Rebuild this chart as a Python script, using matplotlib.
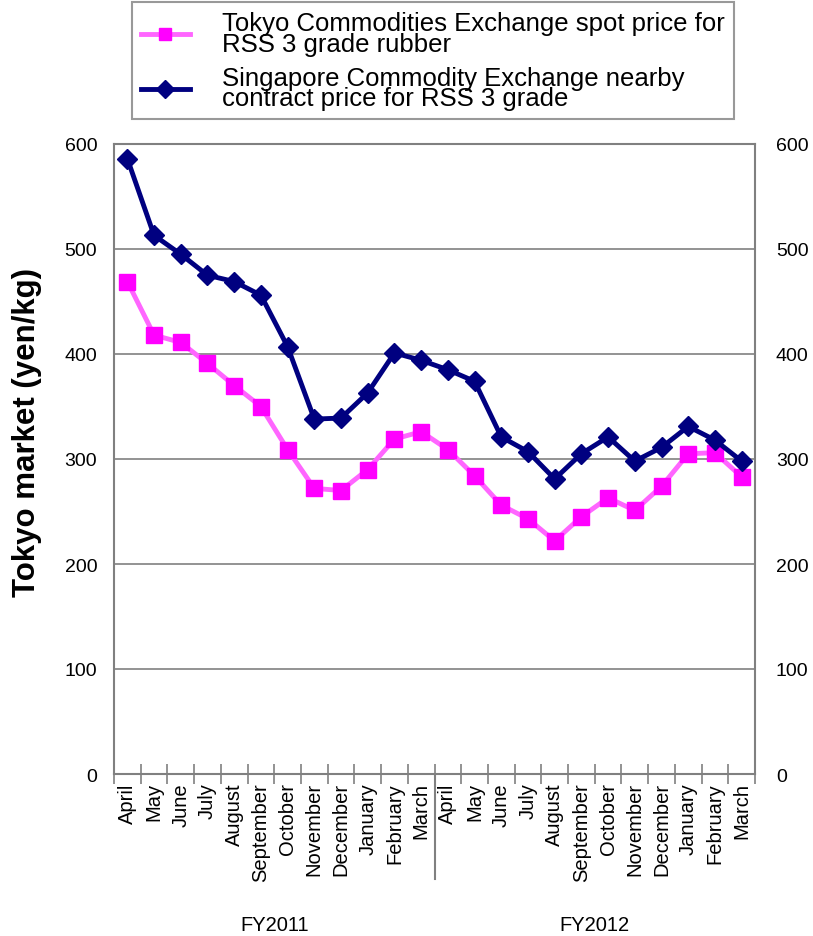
import matplotlib
matplotlib.use("Agg")
import matplotlib.pyplot as plt
import numpy as np

plt.rcParams['font.family'] = ['Liberation Sans', 'DejaVu Sans']

months = ["April", "May", "June", "July", "August", "September", "October",
          "November", "December", "January", "February", "March"]
categories = months + months
fiscal_years = ["FY2011", "FY2012"]

tokyo = [469, 418, 411, 391, 370, 350, 309, 272, 270, 290, 319, 326,
         309, 284, 256, 243, 222, 245, 263, 251, 274, 305, 306, 283]
singapore = [586, 513, 495, 475, 469, 456, 407, 338, 339, 363, 401, 394,
             385, 374, 321, 307, 281, 305, 321, 298, 311, 331, 318, 298]

label_tokyo = "Tokyo Commodities Exchange spot price for\nRSS 3 grade rubber"
label_sgp = "Singapore Commodity Exchange nearby\ncontract price for RSS 3 grade"
ylabel = "Tokyo market (yen/kg)"
yticks = [0, 100, 200, 300, 400, 500, 600]

fig = plt.figure(figsize=(8.13, 9.37), dpi=100)
ax = fig.add_axes([114/813, 1-775/937, (755-114)/813, (775-145)/937])

x = np.arange(len(categories))
ax.set_xlim(-0.5, len(categories) - 0.5)
ax.set_ylim(0, 600)

for yv in yticks[1:-1]:
    ax.axhline(yv, color='#808080', lw=1.2, zorder=1)

lt, = ax.plot(x, tokyo, color='#FF66FF', lw=3.5, marker='s', markersize=11,
              markerfacecolor='#FF00FF', markeredgecolor='#FF00FF', zorder=3,
              label=label_tokyo)
ls, = ax.plot(x, singapore, color='#000080', lw=3.5, marker='D', markersize=10,
              markerfacecolor='#000080', markeredgecolor='#000080', zorder=4,
              label=label_sgp)

for sp in ax.spines.values():
    sp.set_color('#808080')
    sp.set_linewidth(1.5)

ax.set_yticks(yticks)
ax.set_yticklabels([str(v) for v in yticks], fontsize=14)
ax.tick_params(axis='y', length=0, pad=12)
ax.set_ylabel(ylabel, fontsize=22.5, fontweight='bold')
ax.yaxis.set_label_coords(-0.112, 0.544)

ax2 = ax.twinx()
ax2.set_ylim(0, 600)
ax2.set_yticks(yticks)
ax2.set_yticklabels([str(v) for v in yticks], fontsize=14)
ax2.tick_params(axis='y', length=0, pad=15)
for sp in ax2.spines.values():
    sp.set_visible(False)

# x ticks: labels at centers, tick marks at boundaries
ax.set_xticks(x)
ax.set_xticklabels(categories, rotation=90, fontsize=14.5)
ax.tick_params(axis='x', which='major', length=0, pad=6)
ax.set_xticks(np.arange(-0.5, len(categories)), minor=True)
ax.tick_params(axis='x', which='minor', length=14, width=1.2, color='#808080',
               direction='inout')

# divider between fiscal years
ax.plot([11.5, 11.5], [0, -100], color='#808080', lw=1.5, clip_on=False,
        transform=ax.transData, zorder=5)

for i, fy in enumerate(fiscal_years):
    ax.text(5.5 + 12 * i, -143, fy, ha='center', va='center', fontsize=14.5,
            transform=ax.transData)

leg = fig.legend(handles=[lt, ls], loc='upper left',
                 bbox_to_anchor=(132/813, 1-3/937), fontsize=18.5,
                 frameon=True, fancybox=False, edgecolor='#808080',
                 handlelength=1.9, labelspacing=0.4, borderpad=0.35,
                 handletextpad=1.25, borderaxespad=0)
leg.get_frame().set_linewidth(1.5)
for t in leg.get_texts():
    t.set_linespacing(0.82)
for h in leg.legend_handles:
    h.set_markersize(9)

fig.savefig("out.png", dpi=100)
